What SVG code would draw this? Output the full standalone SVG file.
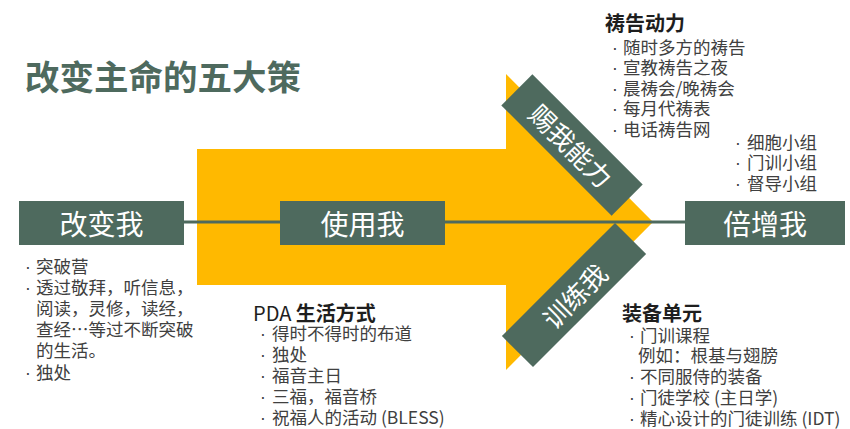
<svg xmlns="http://www.w3.org/2000/svg" width="850" height="429" viewBox="0 0 850 429">
<style>
  text { font-family: "Noto Sans CJK SC", "Noto Sans", sans-serif; }
  .box { fill: #4E6A5E; }
  .lbl { fill: #FFFFFF; font-size: 28px; text-anchor: middle; dominant-baseline: central; }
  .rl { fill: #FFFFFF; font-size: 26px; text-anchor: middle; dominant-baseline: central; }
  .t { fill: #404040; font-size: 17.5px; }
  .b { font-family: "Liberation Sans", sans-serif; }
  .h { fill: #1E1E1E; font-size: 20px; font-weight: bold; }
  .title { fill: #4E6A5E; font-size: 34.5px; font-weight: bold; }
</style>
<rect x="0" y="0" width="850" height="429" fill="#FFFFFF"/>
<text class="title" x="25" y="90">改变主命的五大策</text>

<g id="arrow">
  <polygon points="197,149 506,149 506,74 653,222 506,370 506,285 197,285" fill="#FFB900"/>
</g>

<g id="connectors">
  <line x1="184" y1="222" x2="685" y2="222" stroke="#4E6A5E" stroke-width="3"/>
</g>

<g id="node-gaibianwo">
  <rect class="box" x="19" y="201" width="165" height="44"/>
  <text class="lbl" x="101.5" y="223">改变我</text>
</g>
<g id="node-shiyongwo">
  <rect class="box" x="280" y="201" width="165" height="44"/>
  <text class="lbl" x="362.5" y="223">使用我</text>
</g>
<g id="node-beizengwo">
  <rect class="box" x="685" y="201" width="160" height="44"/>
  <text class="lbl" x="765" y="223">倍增我</text>
</g>
<g id="node-ciwonengli" transform="translate(572,145) rotate(45)">
  <rect class="box" x="-78" y="-22" width="156" height="44"/>
  <text class="rl" x="0" y="0">赐我能力</text>
</g>
<g id="node-xunlianwo" transform="translate(574,295) rotate(-45)">
  <rect class="box" x="-80" y="-22" width="160" height="44"/>
  <text class="rl" x="0" y="0">训练我</text>
</g>

<g id="text-left">
  <text class="t" y="272.5"><tspan class="b" x="25">·</tspan><tspan x="36">突破营</tspan></text>
  <text class="t" y="293.7"><tspan class="b" x="25">·</tspan><tspan x="36">透过敬拜，听信息，</tspan></text>
  <text class="t" y="314.9"><tspan x="36">阅读，灵修，读经，</tspan></text>
  <text class="t" y="336.1"><tspan x="36">查经…等过不断突破</tspan></text>
  <text class="t" y="357.3"><tspan x="36">的生活。</tspan></text>
  <text class="t" y="378.5"><tspan class="b" x="25">·</tspan><tspan x="36">独处</tspan></text>
</g>

<g id="text-prayer">
  <text class="h" x="605" y="30.6">祷告动力</text>
  <text class="t" y="53.6"><tspan class="b" x="612">·</tspan><tspan x="623">随时多方的祷告</tspan></text>
  <text class="t" y="74.1"><tspan class="b" x="612">·</tspan><tspan x="623">宣教祷告之夜</tspan></text>
  <text class="t" y="94.6"><tspan class="b" x="612">·</tspan><tspan x="623">晨祷会/晚祷会</tspan></text>
  <text class="t" y="115.1"><tspan class="b" x="612">·</tspan><tspan x="623">每月代祷表</tspan></text>
  <text class="t" y="135.6"><tspan class="b" x="612">·</tspan><tspan x="623">电话祷告网</tspan></text>
</g>

<g id="text-groups">
  <text class="t" y="148.6"><tspan class="b" x="735">·</tspan><tspan x="747">细胞小组</tspan></text>
  <text class="t" y="169.1"><tspan class="b" x="735">·</tspan><tspan x="747">门训小组</tspan></text>
  <text class="t" y="189.6"><tspan class="b" x="735">·</tspan><tspan x="747">督导小组</tspan></text>
</g>

<g id="text-pda">
  <text x="253" y="320.6" style="font-size:20px;fill:#1E1E1E">PDA <tspan font-weight="bold">生活方式</tspan></text>
  <text class="t" y="339.6"><tspan class="b" x="260">·</tspan><tspan x="272">得时不得时的布道</tspan></text>
  <text class="t" y="360.6"><tspan class="b" x="260">·</tspan><tspan x="272">独处</tspan></text>
  <text class="t" y="382.1"><tspan class="b" x="260">·</tspan><tspan x="272">福音主日</tspan></text>
  <text class="t" y="403.1"><tspan class="b" x="260">·</tspan><tspan x="272">三福，福音桥</tspan></text>
  <text class="t" y="424.1"><tspan class="b" x="260">·</tspan><tspan x="272">祝福人的活动 (BLESS)</tspan></text>
</g>

<g id="text-equip">
  <text class="h" x="622" y="320.6">装备单元</text>
  <text class="t" y="341.6"><tspan class="b" x="629">·</tspan><tspan x="640">门训课程</tspan></text>
  <text class="t" y="361.6"><tspan x="638">例如：根基与翅膀</tspan></text>
  <text class="t" y="382.6"><tspan class="b" x="629">·</tspan><tspan x="640">不同服侍的装备</tspan></text>
  <text class="t" y="403.6"><tspan class="b" x="629">·</tspan><tspan x="640">门徒学校 (主日学)</tspan></text>
  <text class="t" y="424.6"><tspan class="b" x="629">·</tspan><tspan x="640">精心设计的门徒训练 (IDT)</tspan></text>
</g>
</svg>
